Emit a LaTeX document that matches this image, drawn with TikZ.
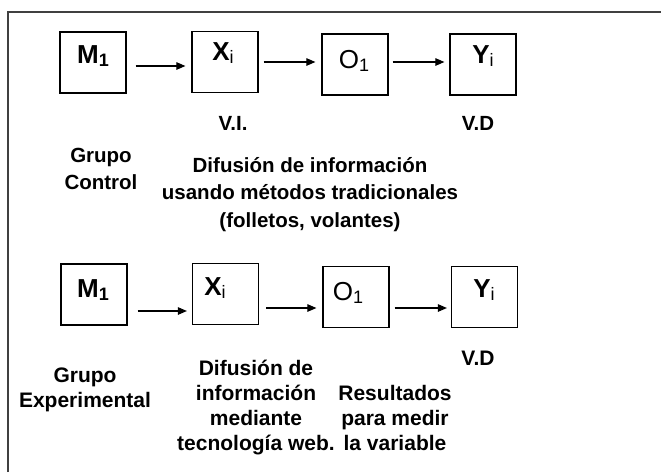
\documentclass[tikz,border=0pt]{standalone}
\usepackage{fontspec}
\setmainfont{Liberation Sans}
\usetikzlibrary{arrows.meta}
\tikzset{
  x=1pt, y=-1pt,
  box/.style={draw, line width=1.2pt, minimum width=66pt, minimum height=61pt, inner sep=0pt},
  lbl/.style={font=\fontsize{26}{30}\selectfont\bfseries, inner sep=0pt},
  lblr/.style={font=\fontsize{26}{30}\selectfont, inner sep=0pt},
  txt/.style={font=\fontsize{21}{25}\selectfont\bfseries, align=center, inner sep=0pt},
  txtt/.style={font=\fontsize{20.5}{27.5}\selectfont\bfseries, align=center, inner sep=0pt},
  arr/.style={line width=1.1pt, -{Triangle[length=9pt,width=7.5pt]}},
  frame/.style={line width=1.8pt, draw=black!75}
}
\newcommand{\subsc}[1]{\raisebox{-0.12em}{\fontsize{18}{18}\selectfont #1}}
\begin{document}
\begin{tikzpicture}
\useasboundingbox (0,0) rectangle (661,472);
\coordinate (fa) at (8,472);
\coordinate (fb) at (8,12);
\coordinate (fc) at (661,12);
\draw[frame] (fa) -- (fb) -- (fc);

% top row
\node[box] (m1) at (93,62.5) {};
\node[box] (x1) at (225,62) {};
\node[box] (o1) at (355,64.5) {};
\node[box] (y1) at (483,64.5) {};
\node[lbl] (m1t) at (93,56) {M\subsc{\bfseries 1}};
\node[lbl] (x1t) at (223,53) {X\subsc{\mdseries i}};
\node[lblr] (o1t) at (354,61) {O\subsc{1}};
\node[lbl] (y1t) at (483,56) {Y\subsc{\mdseries i}};
\draw[arr, shorten >=6pt, shorten <=9pt] ([yshift=-3.5pt]m1.east) -- ([yshift=-3.5pt]m1.east -| x1.west);
\draw[arr, shorten >=6pt, shorten <=5pt] (x1.east) -- (o1.west |- x1.east);
\draw[arr, shorten >=5pt, shorten <=4pt] (o1.east |- x1.east) -- (y1.west |- x1.east);
\node[txtt] (vi) at (233,123) {V.I.};
\node[txtt] (vd1) at (478,123) {V.D};
\node[txtt] (gc) at (101,169) {Grupo\\Control};
\node[txtt] (dif1) at (310,194.5) {Difusión de información\\usando métodos tradicionales\\(folletos, volantes)};

% bottom row
\node[box] (m2) at (94,294.5) {};
\node[box] (x2) at (225.5,294) {};
\node[box] (o2) at (356,297) {};
\node[box] (y2) at (484.5,297) {};
\node[lbl] (m2t) at (93,290) {M\subsc{\bfseries 1}};
\node[lbl] (x2t) at (215,288) {X\subsc{\mdseries i}};
\node[lblr] (o2t) at (348,293) {O\subsc{1}};
\node[lbl] (y2t) at (484,290) {Y\subsc{\mdseries i}};
\draw[arr, shorten >=5pt, shorten <=10pt] ([yshift=-16.5pt]m2.east) -- ([yshift=-16.5pt]m2.east -| x2.west);
\draw[arr, shorten >=6pt, shorten <=7pt] ([yshift=-14pt]x2.east) -- ([yshift=-14pt]x2.east -| o2.west);
\draw[arr, shorten >=4pt, shorten <=5pt] ([yshift=-14pt]x2.east -| o2.east) -- ([yshift=-14pt]x2.east -| y2.west);
\node[txt] (vd2) at (478,358) {V.D};
\node[txt] (ge) at (85,389.5) {Grupo\\Experimental};
\node[txt] (dif2) at (256,407.5) {Difusión de\\información\\mediante\\tecnología web.};
\node[txt] (res) at (395,417.5) {Resultados\\para medir\\la variable};
\end{tikzpicture}
\end{document}
